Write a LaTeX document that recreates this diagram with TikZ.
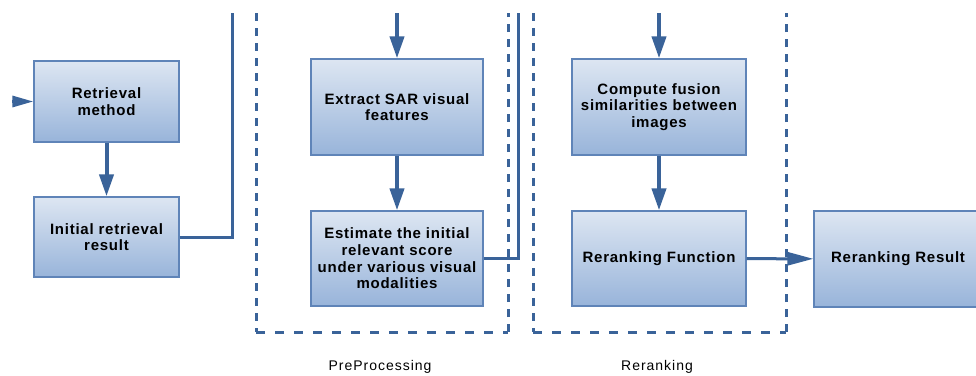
\documentclass[tikz,border=0pt]{standalone}
\usepackage{fontspec}
\setmainfont{Liberation Sans}
\newfontfamily\boxfont[LetterSpace=5]{Liberation Sans Bold}
\newfontfamily\labfont[LetterSpace=7]{Liberation Sans}
\usetikzlibrary{arrows.meta}
\definecolor{linecol}{HTML}{3A6399}
\definecolor{boxborder}{HTML}{5F84B8}
\definecolor{boxtop}{HTML}{DDE6F2}
\definecolor{boxbot}{HTML}{98B4DA}
\tikzset{
  procbox/.style={draw=boxborder, line width=1.3pt, top color=boxtop, bottom color=boxbot,
    align=center, inner sep=2pt, font=\boxfont\fontsize{15}{16.7}\selectfont},
  flow/.style={draw=linecol, line width=4pt, -{Triangle[length=22pt,width=14pt]}},
  route/.style={draw=linecol, line width=3pt},
  groupv/.style={draw=linecol, line width=3pt, dash pattern=on 8pt off 7pt},
  grouph/.style={draw=linecol, line width=3pt, dash pattern=on 9pt off 10pt},
  grouplabel/.style={font=\labfont\fontsize{14}{16}\selectfont, text=black}
}
\begin{document}
\begin{tikzpicture}[x=1pt,y=-1pt]
\useasboundingbox (0,0) rectangle (976,375);
\clip (0,0) rectangle (976,375);
\fill[white] (0,0) rectangle (976,375);

% group frames
\draw[groupv] (256,13) -- (256,332);
\draw[grouph] (256,332) -- (508,332);
\draw[groupv] (508,332) -- (508,13);
\draw[groupv] (533,13) -- (533,332);
\draw[grouph] (533,332) -- (786,332);
\draw[groupv] (786,332) -- (786,13);

% boxes
\node[procbox, minimum width=145pt, minimum height=81pt] (rm) at (106.5,101.5) {Retrieval\\method};
\node[procbox, minimum width=145pt, minimum height=80pt] (ir) at (106.5,237) {Initial retrieval\\result};
\node[procbox, minimum width=172pt, minimum height=96pt] (ex) at (397,107) {Extract SAR visual\\features};
\node[procbox, minimum width=172pt, minimum height=95pt] (es) at (397,258.5) {Estimate the initial\\relevant score\\under various visual\\modalities};
\node[procbox, minimum width=174pt, minimum height=96pt] (cf) at (659,107) {Compute fusion\\similarities between\\images};
\node[procbox, minimum width=174pt, minimum height=95pt] (rf) at (659,258.5) {Reranking Function};
\node[procbox, minimum width=168pt, minimum height=96pt] (rr) at (898,259) {Reranking Result};

% free ends
\coordinate (inL) at (12,101.5);
\coordinate (irR) at (232,237);
\coordinate (irTop) at (232,13);
\coordinate (esR) at (518,258.5);
\coordinate (esTop) at (518,13);
\coordinate (exIn) at (397,13);
\coordinate (cfIn) at (659,13);

% connectors
\draw[linecol, line width=3pt, -{Triangle[length=21pt,width=11pt]}] (inL) -- (rm.west);
\draw[flow] (rm) -- (ir);
\draw[route] (ir.east) -- (irR) -- (irTop);
\draw[flow] (exIn) -- (ex.north);
\draw[flow] (ex) -- (es);
\draw[route] (es.east) -- (esR) -- (esTop);
\draw[flow] (cfIn) -- (cf.north);
\draw[flow] (cf) -- (rf);
\draw[linecol, line width=3pt, -{Triangle[length=26pt,width=13pt]}] (rf) -- (rr);

% labels
\node[grouplabel] (lp) at (380,367) {PreProcessing};
\node[grouplabel] (lr) at (657,367) {Reranking};
\end{tikzpicture}
\end{document}
